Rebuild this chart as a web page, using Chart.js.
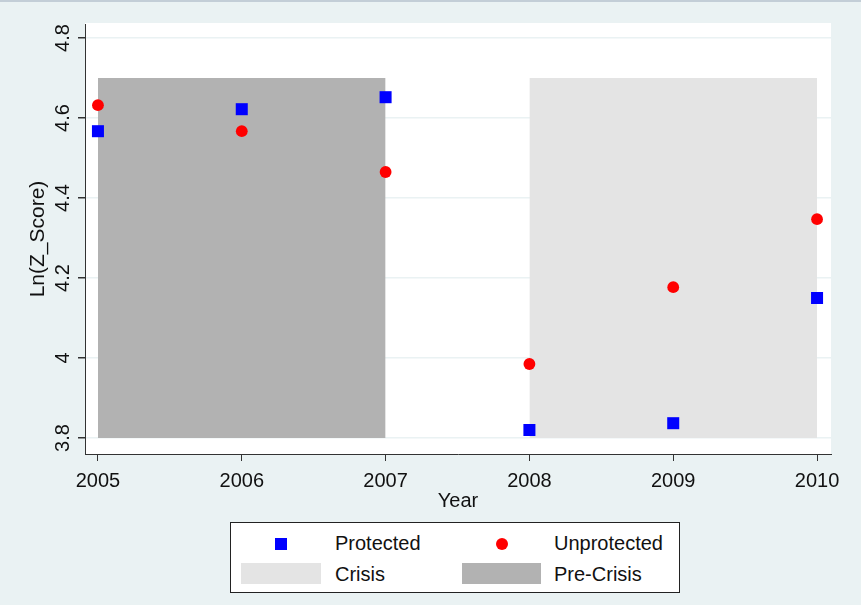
<!DOCTYPE html>
<html>
<head>
<meta charset="utf-8">
<script src="https://cdn.jsdelivr.net/npm/chart.js@4/dist/chart.umd.min.js"></script>
<style>
  html, body { margin: 0; padding: 0; background: #eaf2f3; }
  #wrap { position: relative; width: 861px; height: 605px; background: #eaf2f3; overflow: hidden;
          font-family: "Liberation Sans", Arial, sans-serif; color: #111; }
  #wrap canvas { position: absolute; left: 0; top: 0; }
  #topline { position: absolute; left: 0; top: 0; width: 861px; height: 2px; background: #c3ced7; }
  #legend { position: absolute; left: 230px; top: 522px; width: 448px; height: 69px;
            background: #fff; border: 1px solid #222; }
  .lg { position: absolute; font-size: 20px; line-height: 20px; white-space: nowrap; }
  .sw { position: absolute; }
</style>
</head>
<body>
<div id="wrap">
  <canvas id="chart" width="861" height="605"></canvas>
  <div id="topline"></div>
  <div id="legend"></div>
</div>
<script>
"use strict";

// ---- data ----
const years = [2005, 2006, 2007, 2008, 2009, 2010];
const protectedVals = [4.567, 4.622, 4.652, 3.82, 3.837, 4.15];
const unprotectedVals = [4.632, 4.567, 4.465, 3.985, 4.177, 4.347];
const yTicks = [3.8, 4, 4.2, 4.4, 4.6, 4.8];
const preCrisisSpan = [2005, 2007];
const crisisSpan = [2008, 2010];
const bandTop = 4.7;
const bandBottom = 3.8;

const FONT = "'Liberation Sans', Arial, sans-serif";
const colors = { prot: "#0000ff", unprot: "#ff0000", crisis: "#e4e4e4", pre: "#b2b2b2", grid: "#eaf2f3", axis: "#333" };

const toPoints = vals => years.map((x, i) => ({ x, y: vals[i] }));
const band = span => span.map(x => ({ x, y: bandTop }));

// white plot region + hand-drawn (rotated) axis labels
const plotDecor = {
  id: "plotDecor",
  beforeDraw(chart) {
    const { ctx, chartArea: a } = chart;
    ctx.save();
    ctx.fillStyle = "#fff";
    ctx.fillRect(a.left, a.top - 1, a.right - a.left, a.bottom - a.top + 1);
    ctx.restore();
  },
  afterDraw(chart) {
    const { ctx, chartArea: a, scales } = chart;
    ctx.save();
    ctx.fillStyle = "#111";
    ctx.textBaseline = "alphabetic";
    ctx.textAlign = "center";

    // y tick labels, rotated
    ctx.font = "20px " + FONT;
    yTicks.forEach(v => {
      const py = scales.y.getPixelForValue(v);
      ctx.save();
      ctx.translate(69, py);
      ctx.rotate(-Math.PI / 2);
      ctx.fillText(String(v), 0, 0);
      ctx.restore();
    });

    // y title
    ctx.font = "21px " + FONT;
    ctx.save();
    ctx.translate(44, (a.top + a.bottom) / 2);
    ctx.rotate(-Math.PI / 2);
    ctx.fillText("Ln(Z_Score)", 0, 0);
    ctx.restore();

    // x tick labels + title
    ctx.font = "20px " + FONT;
    years.forEach(v => ctx.fillText(String(v), scales.x.getPixelForValue(v), 487));
    ctx.fillText("Year", (a.left + a.right) / 2, 507);
    ctx.restore();
  }
};

new Chart(document.getElementById("chart"), {
  type: "scatter",
  data: {
    datasets: [
      {
        label: "Protected", data: toPoints(protectedVals), order: 0,
        pointStyle: "rect", pointRadius: 8.5, backgroundColor: colors.prot, borderColor: colors.prot, borderWidth: 0
      },
      {
        label: "Unprotected", data: toPoints(unprotectedVals), order: 0,
        pointStyle: "circle", pointRadius: 5.9, backgroundColor: colors.unprot, borderColor: colors.unprot, borderWidth: 0
      },
      {
        type: "line", label: "Crisis", data: band(crisisSpan), order: 1,
        borderColor: "transparent", borderWidth: 0, pointRadius: 0,
        backgroundColor: colors.crisis, fill: { value: bandBottom }
      },
      {
        type: "line", label: "Pre-Crisis", data: band(preCrisisSpan), order: 1,
        borderColor: "transparent", borderWidth: 0, pointRadius: 0,
        backgroundColor: colors.pre, fill: { value: bandBottom }
      }
    ]
  },
  options: {
    responsive: false, animation: false, events: [],
    layout: { padding: { left: 0, right: 30, top: 24, bottom: 0 } },
    plugins: { legend: { display: false }, tooltip: { enabled: false } },
    scales: {
      x: {
        type: "linear", min: 2004.91, max: 2010.097,
        afterBuildTicks: s => { s.ticks = years.map(value => ({ value })); },
        afterFit: s => { s.height = 151; },
        ticks: { display: false },
        grid: { drawOnChartArea: false, drawTicks: true, tickLength: 7, tickColor: colors.axis, lineWidth: 1 },
        border: { color: colors.axis, width: 1 }
      },
      y: {
        type: "linear", min: 3.76, max: 4.835,
        afterBuildTicks: s => { s.ticks = yTicks.map(value => ({ value })); },
        afterFit: s => { s.width = 85; },
        ticks: { display: false },
        grid: { color: colors.grid, lineWidth: 1.5, drawTicks: true, tickLength: 7, tickColor: colors.axis },
        border: { color: colors.axis, width: 1 }
      }
    }
  },
  plugins: [plotDecor]
});

// ---- legend (Stata style box below the plot) ----
const legendItems = [
  { text: "Protected", sw: { left: 44, top: 15, w: 12, h: 12, bg: colors.prot }, tx: 104, ty: 10 },
  { text: "Unprotected", sw: { left: 265, top: 15, w: 12, h: 12, bg: colors.unprot, round: true }, tx: 323, ty: 10 },
  { text: "Crisis", sw: { left: 10, top: 40, w: 80, h: 21, bg: colors.crisis }, tx: 104, ty: 41 },
  { text: "Pre-Crisis", sw: { left: 231, top: 40, w: 79, h: 21, bg: colors.pre }, tx: 323, ty: 41 }
];
const legend = document.getElementById("legend");
legend.innerHTML = legendItems.map(it => `
  <div class="sw" style="left:${it.sw.left}px;top:${it.sw.top}px;width:${it.sw.w}px;height:${it.sw.h}px;background:${it.sw.bg};${it.sw.round ? "border-radius:50%;" : ""}"></div>
  <div class="lg" style="left:${it.tx}px;top:${it.ty}px">${it.text}</div>`).join("");
</script>
</body>
</html>
